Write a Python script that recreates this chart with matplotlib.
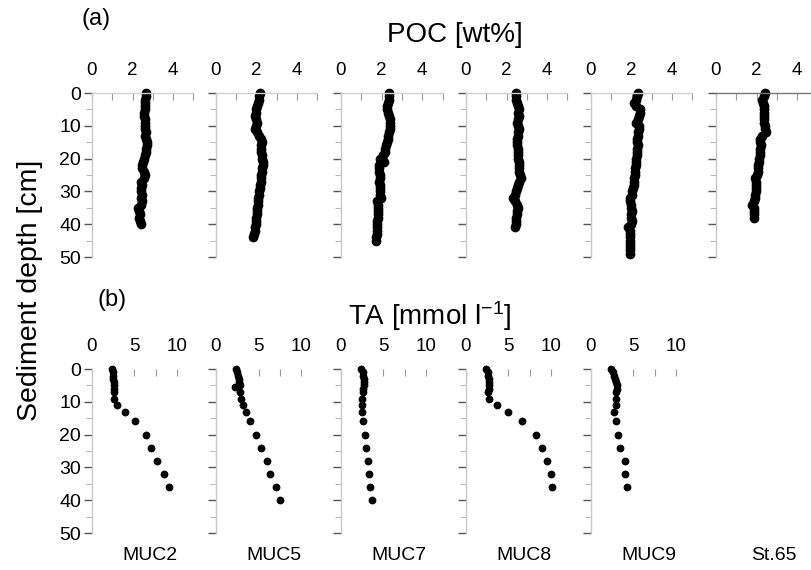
import numpy as np
import matplotlib
matplotlib.use("Agg")
import matplotlib.pyplot as plt
from matplotlib.ticker import MultipleLocator

plt.rcParams['font.family'] = ['Liberation Sans', 'DejaVu Sans']
plt.rcParams['mathtext.default'] = 'regular'

cores = ["MUC2", "MUC5", "MUC7", "MUC8", "MUC9", "St.65"]

# ---- POC [wt%] profiles (depth in cm) ----
poc_muc2 = [2.65, 2.65, 2.6, 2.6, 2.62, 2.6, 2.58, 2.57, 2.6, 2.6, 2.62, 2.63, 2.64, 2.62,
            2.68, 2.7, 2.7, 2.68, 2.65, 2.6, 2.55, 2.5, 2.45, 2.48, 2.55, 2.6, 2.55, 2.4,
            2.45, 2.4, 2.42, 2.45, 2.4, 2.45, 2.42, 2.25, 2.3, 2.35, 2.3, 2.35, 2.4]
poc_muc5 = [2.15, 2.1, 2.1, 2.05, 2.0, 1.95, 1.95, 1.9, 1.95, 2.0, 1.95, 1.9, 2.0, 2.1,
            2.2, 2.25, 2.2, 2.2, 2.2, 2.25, 2.25, 2.3, 2.3, 2.25, 2.25, 2.2, 2.2, 2.2,
            2.15, 2.15, 2.1, 2.1, 2.05, 2.05, 2.05, 2.0, 2.0, 2.0, 1.95, 1.95, 1.95,
            1.9, 1.9, 1.85, 1.8]
poc_muc7 = [2.38, 2.35, 2.35, 2.32, 2.28, 2.27, 2.3, 2.38, 2.4, 2.43, 2.43, 2.4, 2.35,
            2.32, 2.3, 2.27, 2.22, 2.18, 2.15, 2.05, 1.94, 2.1, 1.88, 1.85, 1.87, 1.9,
            1.9, 1.88, 1.9, 1.92, 1.9, 1.93, 1.95, 1.75, 1.8, 1.83, 1.82, 1.8, 1.8, 1.78,
            1.78, 1.77, 1.75, 1.75, 1.73, 1.73]
poc_muc8 = [2.45, 2.45, 2.48, 2.5, 2.55, 2.6, 2.55, 2.62, 2.55, 2.52, 2.55, 2.62, 2.58,
            2.55, 2.52, 2.5, 2.52, 2.55, 2.55, 2.55, 2.58, 2.6, 2.6, 2.62, 2.6, 2.65,
            2.72, 2.6, 2.55, 2.5, 2.45, 2.4, 2.32, 2.4, 2.5, 2.55, 2.52, 2.5, 2.48,
            2.45, 2.45, 2.42]
poc_muc9 = [2.3, 2.25, 2.22, 2.1, 2.2, 2.4, 2.42, 2.38, 2.3, 2.2, 2.35, 2.35, 2.32, 2.3,
            2.28, 2.25, 2.3, 2.28, 2.25, 2.25, 2.22, 2.2, 2.2, 2.18, 2.15, 2.15, 2.12,
            2.1, 2.1, 2.05, 2.02, 2.0, 1.9, 1.9, 1.95, 1.98, 2.0, 1.98, 1.98, 2.0, 1.95,
            1.82, 1.9, 1.93, 1.92, 1.92, 1.9, 1.9, 1.9, 1.92]
poc_st65 = [2.4, 2.35, 2.27, 2.3, 2.35, 2.37, 2.37, 2.36, 2.37, 2.38, 2.4, 2.42, 2.48,
            2.25, 2.18, 2.18, 2.2, 2.18, 2.16, 2.15, 2.12, 2.1, 2.05, 2.08, 2.05, 2.0,
            1.9, 1.95, 1.98, 1.95, 1.95, 1.92, 1.9, 1.88, 1.76, 1.85, 1.88, 1.87, 1.87]
poc_values = [poc_muc2, poc_muc5, poc_muc7, poc_muc8, poc_muc9, poc_st65]

# ---- TA [mmol l-1] profiles ----
ta_depth = [0, 1, 2, 3, 4, 5, 6, 7, 9, 11, 13, 16, 20, 24, 28, 32, 36]
ta_muc2 = [2.35, 2.45, 2.5, 2.5, 2.55, 2.55, 2.55, 2.55, 2.6, 2.95, 3.85, 5.1, 6.35,
           6.9, 7.6, 8.5, 9.05]
ta_muc5_depth = [0, 1, 2, 3, 4, 5, 5.5, 7, 9, 11, 13, 16, 20, 24, 28, 32, 36, 40]
ta_muc5 = [2.4, 2.45, 2.55, 2.65, 2.75, 2.8, 2.2, 2.8, 2.95, 3.2, 3.5, 4.05, 4.7, 5.35,
           5.95, 6.3, 7.05, 7.5]
ta_muc7_depth = [0, 1, 2, 3, 4, 5, 6, 7, 9, 11, 13, 16, 20, 24, 28, 32, 36, 40]
ta_muc7 = [2.35, 2.55, 2.6, 2.65, 2.7, 2.65, 2.6, 2.55, 2.45, 2.45, 2.45, 2.55, 2.8,
           3.0, 3.2, 3.3, 3.45, 3.6]
ta_muc8 = [2.35, 2.55, 2.6, 2.65, 2.7, 2.7, 2.65, 2.6, 2.75, 3.7, 5.0, 6.6, 8.25, 8.95,
           9.55, 10.05, 10.1]
ta_muc9 = [2.35, 2.55, 2.75, 2.85, 2.95, 3.05, 3.05, 3.0, 2.95, 2.95, 2.75, 2.95, 3.15,
           3.45, 4.05, 4.05, 4.25]
ta_series = [(ta_depth, ta_muc2), (ta_muc5_depth, ta_muc5), (ta_muc7_depth, ta_muc7),
             (ta_depth, ta_muc8), (ta_depth, ta_muc9)]

W, H = 812, 570
fig = plt.figure(figsize=(W / 100, H / 100), dpi=100)

lefts_px = [92, 216, 341, 466, 591, 716]
top_row = (93, 257)
bot_row = (369, 533)


def make_ax(left_px, width_px, row):
    y0, y1 = row
    return fig.add_axes([left_px / W, 1 - y1 / H, width_px / W, (y1 - y0) / H])


def style(ax, first, top_spine_color):
    ax.set_ylim(50, 0)
    ax.xaxis.tick_top()
    for s in ['right', 'bottom']:
        ax.spines[s].set_visible(False)
    ax.spines['left'].set_color('#c8c8c8')
    ax.spines['left'].set_linewidth(1.0)
    if top_spine_color is None:
        ax.spines['top'].set_visible(False)
    else:
        ax.spines['top'].set_color(top_spine_color)
        ax.spines['top'].set_linewidth(1.0)
    ax.yaxis.set_major_locator(MultipleLocator(10))
    ax.yaxis.set_minor_locator(MultipleLocator(5))
    ax.tick_params(axis='y', which='major', direction='out', length=6, width=1,
                   color='#555555', labelsize=14, pad=2, labelleft=first)
    ax.tick_params(axis='y', which='minor', direction='out', length=4, width=0.8,
                   color='#bbbbbb')
    ax.tick_params(axis='x', which='both', direction='in', color='#999999',
                   labelsize=13.5, pad=10)
    ax.tick_params(axis='x', which='major', length=5, width=0.8)
    ax.tick_params(axis='x', which='minor', length=5, width=0.8)
    ax.set_facecolor('none')


# Top row: POC
for i, (lp, vals) in enumerate(zip(lefts_px, poc_values)):
    ax = make_ax(lp, 101.5, top_row)
    depth = np.arange(len(vals))
    ax.plot(vals, depth, 'o', color='black', markersize=6, clip_on=False)
    ax.set_xlim(0, 5)
    ax.xaxis.set_major_locator(MultipleLocator(2))
    ax.xaxis.set_minor_locator(MultipleLocator(1))
    style(ax, i == 0, '#777777' if i == 5 else '#d0d0d0')

# Bottom row: TA
for i, (lp, (dep, vals)) in enumerate(zip(lefts_px[:5], ta_series)):
    ax = make_ax(lp, 102, bot_row)
    ax.plot(vals, dep, 'o', color='black', markersize=4.6, clip_on=False)
    ax.set_xlim(0, 12)
    ax.xaxis.set_major_locator(MultipleLocator(5))
    ax.xaxis.set_minor_locator(MultipleLocator(2.5))
    style(ax, i == 0, None)

# Core labels
for lp, name in zip(lefts_px, cores):
    fig.text((lp + 58) / W, 1 - 555 / H, name, ha='center', va='center', fontsize=14)

fig.text(96 / W, 1 - 19 / H, "(a)", ha='center', va='center', fontsize=17)
fig.text(455 / W, 1 - 35 / H, "POC [wt%]", ha='center', va='center', fontsize=20)
fig.text(112 / W, 1 - 300 / H, "(b)", ha='center', va='center', fontsize=17)
fig.text(430 / W, 1 - 316 / H, "TA [mmol l$^{-1}$]", ha='center', va='center', fontsize=20)
fig.text(30 / W, 1 - 290 / H, "Sediment depth [cm]", ha='center', va='center',
         rotation=90, fontsize=20.5)

fig.savefig("out.png", dpi=100)
